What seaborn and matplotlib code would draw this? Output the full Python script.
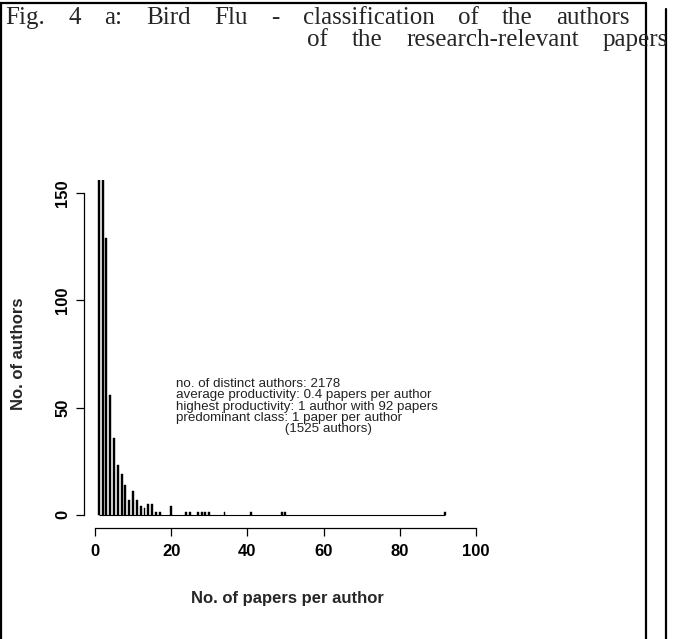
import matplotlib
matplotlib.use("Agg")
import matplotlib.pyplot as plt
from matplotlib.lines import Line2D
import seaborn as sns

# number of papers per author -> how many authors have that count
papers = [1, 2, 3, 4, 5, 6, 7, 8, 9, 10, 11, 12, 13, 14, 15, 16, 17,
          20, 24, 25, 27, 28, 29, 30, 34, 41, 49, 50, 92]
authors = [1525, 317, 129, 56, 36, 23, 19, 14, 7, 11, 7, 4, 3, 5, 5, 1, 1,
           4, 1, 1, 1, 1, 1, 1, 1, 1, 1, 1, 1]

x_ticks = [0, 20, 40, 60, 80, 100]
y_ticks = [0, 50, 100, 150]

title_1 = "Fig. 4 a: Bird Flu - classification of the authors"
title_2 = "of the research-relevant papers"
info_lines = [
    "no. of distinct authors: 2178",
    "average productivity: 0.4 papers per author",
    "highest productivity: 1 author with 92 papers",
    "predominant class: 1 paper per author",
    " " * 29 + "(1525 authors)",
]

W, H = 675, 639

sns.set_style("ticks")
plt.rcParams["font.family"] = ["Liberation Sans", "DejaVu Sans"]

fig = plt.figure(figsize=(W / 100, H / 100), dpi=100)
fig.patch.set_facecolor("white")

# plot region in pixels (R style: limits padded 4 %)
left, right, top, bottom = 83.7, 491.0, 180.0, 528.0
ax = fig.add_axes([left / W, 1 - bottom / H, (right - left) / W, (bottom - top) / H])
ax.set_facecolor("white")

sns.barplot(x=papers, y=authors, native_scale=True, width=0.5,
            color="black", saturation=1, errorbar=None, ax=ax,
            edgecolor="black", linewidth=0.3)
ax.hlines(0, min(papers), max(papers), color="black", lw=0.8)

xr = max(x_ticks) - min(papers)
ax.set_xlim(min(papers) - 0.04 * xr, max(x_ticks) + 0.04 * xr)
ax.set_ylim(-0.04 * 156, 156.24)

ax.set_xticks(x_ticks)
ax.set_yticks(y_ticks)
ax.spines["top"].set_visible(False)
ax.spines["right"].set_visible(False)
ax.spines["left"].set_bounds(min(y_ticks), max(y_ticks))
ax.spines["bottom"].set_bounds(min(x_ticks), max(x_ticks))
for s in ("left", "bottom"):
    ax.spines[s].set_linewidth(0.9)
    ax.spines[s].set_color("black")

ax.tick_params(axis="both", direction="out", length=5.8, width=0.9,
               colors="black", labelsize=12)
ax.tick_params(axis="x", pad=6)
ax.tick_params(axis="y", pad=4, labelrotation=90)
for lab in ax.get_yticklabels():
    lab.set_va("center")
    lab.set_fontweight("bold")
for lab in ax.get_xticklabels():
    lab.set_fontweight("bold")

ax.set_xlabel("No. of papers per author", fontsize=12, fontweight="bold")
ax.set_ylabel("No. of authors", fontsize=12, fontweight="bold")
ax.xaxis.set_label_coords(0.5, (bottom - 598) / (bottom - top))
ax.yaxis.set_label_coords((19 - left) / (right - left), 0.5)
ax.xaxis.label.set_va("center")
ax.yaxis.label.set_va("center")

# statistics text
ax.text(21.3, 63.8, "\n".join(info_lines), fontsize=9.6, color="#222222",
        ha="left", va="top", linespacing=0.93)


def justify(text, x0, x1, yc):
    words = text.split()
    items = [fig.text(0, 1 - yc / H, w, fontsize=18, va="center",
                      family=["Liberation Serif", "DejaVu Serif"])
             for w in words]
    fig.canvas.draw()
    r = fig.canvas.get_renderer()
    widths = [t.get_window_extent(r).width for t in items]
    gap = (x1 - x0 - sum(widths)) / (len(words) - 1)
    x = x0
    for t, w in zip(items, widths):
        t.set_x(x / W)
        x += w + gap


justify(title_1, 5, 630, 18)
justify(title_2, 307, 668, 40)

# page frame lines
def frame(x0, y0, x1, y1):
    fig.add_artist(Line2D([x0 / W, x1 / W], [1 - y0 / H, 1 - y1 / H],
                          transform=fig.transFigure, color="black", lw=1.6))


frame(0, 3, 646, 3)
frame(1, 3, 1, H)
frame(646, 3, 646, H)
frame(666, 9, 666, H)

fig.savefig("out.png", dpi=100)
